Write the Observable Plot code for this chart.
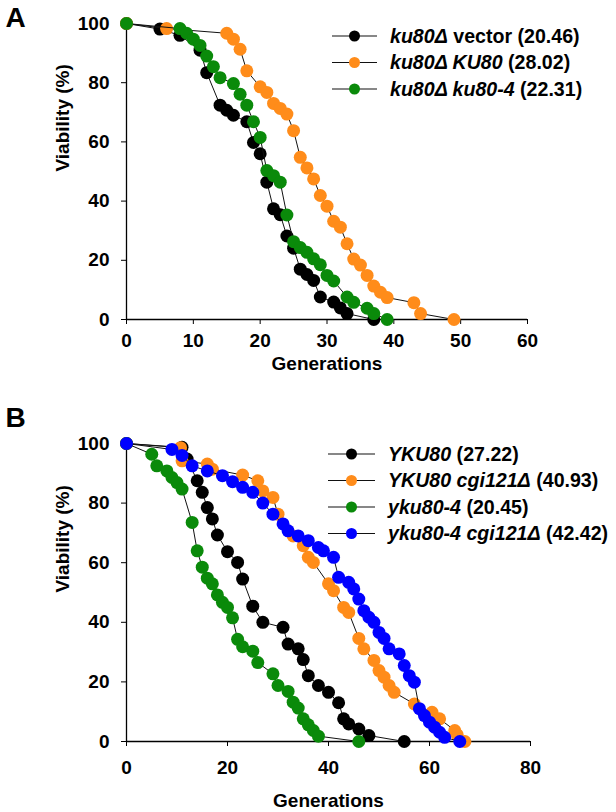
<!DOCTYPE html>
<html><head><meta charset="utf-8">
<script src="https://cdn.jsdelivr.net/npm/d3@7"></script>
<script src="https://cdn.jsdelivr.net/npm/@observablehq/plot@0.6"></script>
<style>
body{margin:0;background:#fff;}
#chart{width:616px;}
#chart svg{display:block;overflow:visible;}
</style></head><body><div id="chart"></div>
<script>
// ---------- Panel A data ----------
const aVectorGen = [0,5,8,11,12,14,15,16,18,19,20,21,22,23,24,25,26,27,28,29,31,32,33,37];
const aVectorVia = [100,98.1,96,91,83.4,72.4,70.7,69,66.8,59.8,56,46.4,37.4,35.4,28.2,24.1,17,15.2,13.2,7.6,5.9,3.9,2,0];
const aKU80Gen = [0,6,15,16,17,18,20,21,22,23,24,25,26,27,28,29,30,31,32,33,34,35,36,37,38,39,43,44,49];
const aKU80Via = [100,98.3,96.7,94.7,91.3,84,78.6,76.7,73,71.3,69.4,63.8,54.8,51.2,47.5,41.9,38.3,33.2,31.2,25.6,20.4,18.4,14.9,11.3,9.2,7.4,5.7,2,0];
const aKu804Gen = [0,8,9,10,11,12,13,14,16,17,18,19,20,21,22,23,24,25,26,27,28,29,30,31,33,34,36,37,39];
const aKu804Via = [100,98.3,96.7,94.7,92.6,89,85.4,81.7,79.7,76.1,72.4,66.8,61.5,50.3,48.6,46.4,35.3,26.3,24.3,22.7,20.5,18.5,14.9,13,7.6,5.8,3.8,2,0];
const aNames = ["ku80Δ vector", "ku80Δ KU80", "ku80Δ ku80-4"];
const aItalic = ["ku80Δ", "ku80Δ KU80", "ku80Δ ku80-4"];
const aPlain = [" vector (20.46)", " (28.02)", " (22.31)"];
const aColors = ["#000000", "#ff8c1a", "#0a8a0a"];
const aXTicks = [0,10,20,30,40,50,60];

// ---------- Panel B data ----------
const bYKU80Gen = [0,11,12,14,15,16,17,18,20,22,23,25,27,31,32,34,35,36,38,40,42,43,44,46,48,55];
const bYKU80Via = [100,98.7,94.8,87.5,83.6,78.5,74.7,69.3,63.7,60.1,54.5,45.4,40,38.3,32.7,31.1,27.5,22.1,18.8,16.5,13,7.6,5.9,4.2,2,0];
const bYKU80cgiGen = [0,10.7,11,16,17,23,26,27,29,30,33,35,36,37,40,41,43,44,46,47,49,50,51,52,53,57,60.5,62,65,65.5,67];
const bYKU80cgiVia = [100,98.6,94.2,93.1,91.4,89.4,87.5,84.1,81.9,76.3,69,65.7,61.8,60.1,52.9,50.6,45,43.3,34.6,31.1,27.2,23.8,21.6,18.8,16.5,12.6,9.8,7.6,3.7,2.2,0];
const byku804Gen = [0,5,6,8,9,10,11,13,14,15,16,17,18,19,20,21,22,23,25,26,29,30,32,33,34,35,36,37,38,46];
const byku804Via = [100,96.4,92.5,90.8,88.6,86.9,84.7,73.5,64,58.5,54.8,52.9,49.2,46.7,45,41.5,34.3,31.8,30.3,26.5,22.7,18.8,16.8,13.2,11.2,7.6,5.6,3.7,1.8,0];
const byku804cgiGen = [0,9,11,13,16,19,21,23,25,27,29,31,32,34,36,38,39,41,42,44,45,46,47,48,49,50,51,52,54,55,56,57,58,59,60,61,62,63,66];
const byku804cgiVia = [100,98,96,92.5,90.8,89.2,87.2,85.3,83.6,80,76.3,73,70.7,69,67.4,65.1,64,61.8,55.1,53.4,51.2,47.8,43.9,41.7,40,36.6,34.6,31.1,29.4,25.5,22.1,19.9,11,8.7,6.5,4.8,3.1,1.4,0];
const bNames = ["YKU80", "YKU80 cgi121Δ", "yku80-4", "yku80-4 cgi121Δ"];
const bItalic = ["YKU80", "YKU80 cgi121Δ", "yku80-4", "yku80-4 cgi121Δ"];
const bPlain = [" (27.22)", " (40.93)", " (20.45)", " (42.42)"];
const bColors = ["#000000", "#ff8c1a", "#0a8a0a", "#0000ff"];
const bXTicks = [0,20,40,60,80];

const yTicks = [0,20,40,60,80,100];
const FONT = "'Liberation Sans', Arial, Helvetica, sans-serif";

function toRows(names, gens, vias) {
  const rows = [];
  names.forEach((n, i) => gens[i].forEach((g, j) => rows.push({series: n, gen: g, via: vias[i][j]})));
  return rows;
}

function panel(cfg) {
  const rows = toRows(cfg.names, cfg.gens, cfg.vias);
  const xmax = cfg.xTicks[cfg.xTicks.length - 1];
  const seriesMarks = [];
  cfg.names.forEach((n, i) => {
    const d = rows.filter(r => r.series === n);
    seriesMarks.push(Plot.line(d, {x: "gen", y: "via", stroke: "#111", strokeWidth: 1}));
    seriesMarks.push(Plot.dot(d, {x: "gen", y: "via", r: 6.5, fill: cfg.colors[i], stroke: "none"}));
  });
  const svg = Plot.plot({
    width: 616, height: cfg.height,
    marginTop: cfg.mt, marginBottom: cfg.mb, marginLeft: 126, marginRight: cfg.mr,
    x: {domain: [0, xmax]},
    y: {domain: [0, 100]},
    style: {fontFamily: FONT, fontSize: "19px", fontWeight: "bold", color: "#000", background: "#fff", overflow: "visible"},
    marks: [
      Plot.axisY(yTicks, {tickSize: 5, tickPadding: 12, label: null, fontSize: 19, fontWeight: "bold"}),
      Plot.axisX(cfg.xTicks, {tickSize: 5, tickPadding: cfg.xPad, label: null, fontSize: 19, fontWeight: "bold"}),
      Plot.ruleX([0], {y1: 0, y2: 100, stroke: "#000", strokeWidth: 1.3}),
      Plot.ruleY([0], {x1: 0, x2: xmax, stroke: "#000", strokeWidth: 1.3}),
      ...seriesMarks,
      Plot.text(["Viability (%)"], {frameAnchor: "left", dx: -64, rotate: -90, fontSize: 19, fontWeight: "bold"}),
      Plot.text(["Generations"], {frameAnchor: "bottom", dy: cfg.genDy, fontSize: 19, fontWeight: "bold", textAnchor: "middle", lineAnchor: "middle"}),
      Plot.text([cfg.letter], {frameAnchor: "top-left", dx: -121, dy: cfg.letterDy, fontSize: 28, fontWeight: "bold", textAnchor: "start", lineAnchor: "top"})
    ]
  });
  // legend
  const g = d3.select(svg).append("g").attr("font-family", FONT).attr("font-weight", "bold").attr("font-size", 19.6).attr("text-anchor", "start");
  cfg.names.forEach((n, i) => {
    const y = cfg.legY0 + i * cfg.legStep;
    g.append("line").attr("x1", cfg.legX1).attr("x2", cfg.legX2).attr("y1", y).attr("y2", y).attr("stroke", "#111").attr("stroke-width", 1.2);
    g.append("circle").attr("cx", (cfg.legX1 + cfg.legX2) / 2).attr("cy", y).attr("r", 5.5).attr("fill", cfg.colors[i]);
    const t = g.append("text").attr("x", cfg.legTx).attr("y", y).attr("dy", "0.35em").attr("fill", "#000").attr("text-anchor", "start");
    t.append("tspan").attr("font-style", "italic").text(cfg.italic[i]);
    t.append("tspan").text(cfg.plain[i]);
  });
  return svg;
}

const root = document.getElementById("chart");
root.appendChild(panel({
  names: aNames, gens: [aVectorGen, aKU80Gen, aKu804Gen], vias: [aVectorVia, aKU80Via, aKu804Via],
  colors: aColors, italic: aItalic, plain: aPlain, xTicks: aXTicks,
  height: 400, mt: 23, mb: 81, mr: 89, xPad: 9, genDy: 44, letter: "A", letterDy: -16,
  legY0: 36, legStep: 26.5, legX1: 332, legX2: 377, legTx: 390
}));
root.appendChild(panel({
  names: bNames, gens: [bYKU80Gen, bYKU80cgiGen, byku804Gen, byku804cgiGen], vias: [bYKU80Via, bYKU80cgiVia, byku804Via, byku804cgiVia],
  colors: bColors, italic: bItalic, plain: bPlain, xTicks: bXTicks,
  height: 412, mt: 43, mb: 71, mr: 86, xPad: 14, genDy: 59, letter: "B", letterDy: -36,
  legY0: 54, legStep: 26.5, legX1: 328, legX2: 375, legTx: 388
}));
</script></body></html>
